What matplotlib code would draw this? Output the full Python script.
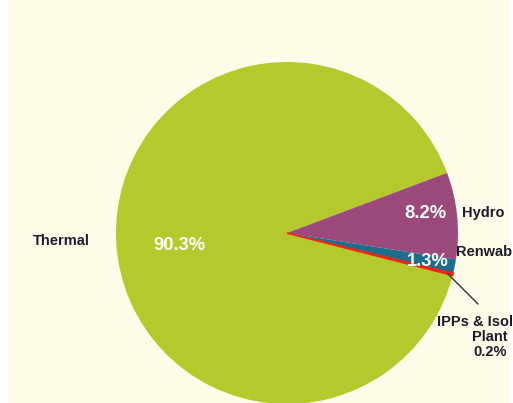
import matplotlib
matplotlib.use("Agg")
import matplotlib.pyplot as plt
from matplotlib.patches import Rectangle

# share of generation by source
categories = ["Thermal", "Hydro", "Renwable", "IPPs & Isolated\nPlant"]
shares = [90.3, 8.2, 1.3, 0.2]
colors = ["#b3c92c", "#9c4a7c", "#1c6d8e", "#e8261c"]

W, H = 513, 403
CX, CY, R = 287, 233, 171  # pie centre / radius in pixels


def px(x, y):
    """pixel position (from top-left) -> data coords where radius = 1"""
    return (x - CX) / R, (CY - y) / R


fig = plt.figure(figsize=(W / 100, H / 100), dpi=100, facecolor="white")
fig.patches.append(Rectangle((8 / W, 0), 501 / W, 1, transform=fig.transFigure,
                             facecolor="#fefbe8", edgecolor="none", zorder=-10))

ax = fig.add_axes([0, 0, 1, 1])
ax.set_facecolor("none")

# thermal first, clockwise; hydro top edge sits at ~20.6 deg
start = 20.6 + shares[0] / 100 * 360
wedges, _ = ax.pie(shares, colors=colors, startangle=start, counterclock=False,
                   radius=1, wedgeprops=dict(linewidth=0))
# the tiny slice shows up as a red line in the original
wedges[3].set_edgecolor(colors[3])
wedges[3].set_linewidth(1.3)

ax.set_xlim(-CX / R, (W - CX) / R)
ax.set_ylim(-(H - CY) / R, CY / R)
ax.set_aspect("auto")
ax.axis("off")

lab = dict(fontsize=10.5, fontweight="bold", color="#1c1c2a", family="Liberation Sans")
pct = dict(fontsize=13.2, fontweight="bold", color="white", family="Liberation Sans")

ax.text(*px(61, 241), categories[0], ha="center", va="center", **lab)
ax.text(*px(179, 246), f"{shares[0]}%", ha="center", va="center", **pct)

ax.text(*px(425, 214), f"{shares[1]}%", ha="center", va="center", **pct)
ax.text(*px(462, 213), categories[1], ha="left", va="center", **lab)

ax.text(*px(428, 262), f"{shares[2]}%", ha="center", va="center", **pct)
ax.text(*px(456, 252), categories[2], ha="left", va="center", **lab)

ax.annotate("", xy=px(448, 274), xytext=px(478, 304),
            arrowprops=dict(arrowstyle="-", color="#333333", lw=1,
                            shrinkA=0, shrinkB=0))
ax.text(*px(490, 337), f"{categories[3]}\n{shares[3]}%", ha="center", va="center",
        linespacing=1.1, **lab)

fig.savefig("out.png", dpi=100, facecolor=fig.get_facecolor())
